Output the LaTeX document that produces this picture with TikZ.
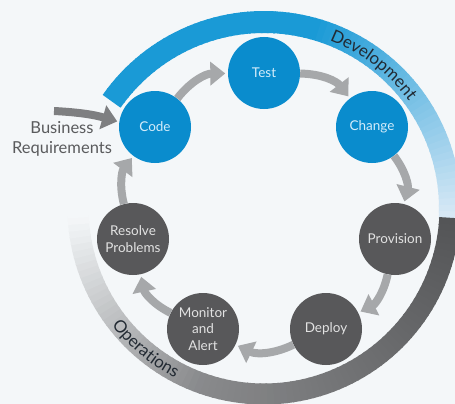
\documentclass[tikz,border=0pt]{standalone}
\usepackage{fontspec}
\setmainfont{Lato}
\usetikzlibrary{arrows.meta,decorations.text}
\definecolor{bg}{HTML}{F4F7F9}
\definecolor{devblue}{HTML}{1A9AD6}
\definecolor{devlight}{HTML}{DCEAF6}
\definecolor{nodeblue}{HTML}{0A8CCD}
\definecolor{nodegray}{HTML}{58585A}
\definecolor{arrowgray}{HTML}{A6A8AA}
\definecolor{bizgray}{HTML}{7E7F81}
\definecolor{opsdark}{HTML}{545557}
\definecolor{opsmid}{HTML}{8A8B8D}
\definecolor{txtdark}{HTML}{222A33}
\definecolor{labelgray}{HTML}{5A5B5D}
\definecolor{bluetxt}{HTML}{D4ECFA}
\definecolor{graytxt}{HTML}{E2E2E2}
\begin{document}
\begin{tikzpicture}[x=1pt,y=1pt,
  stage/.style={circle, minimum size=72pt, inner sep=0pt, align=center, font=\fontsize{13.5}{16.5}\selectfont},
  devstage/.style={stage, fill=nodeblue, text=bluetxt},
  opsstage/.style={stage, fill=nodegray, text=graytxt},
  flow/.style={draw=arrowgray, line width=8pt, -{Triangle[width=23pt,length=15pt]}, shorten >=2.5pt, bend left=25.7},
  bizflow/.style={draw=bizgray, line width=8pt, -{Triangle[width=24pt,length=15pt]}, shorten >=2pt},
]
\fill[bg] (0,0) rectangle (455,-404);
\useasboundingbox (0,0) rectangle (455,-404);
\coordinate (ringc) at (264,-208);
% development ring
\foreach \i in {0,...,73}{
  \pgfmathsetmacro{\a}{145-2*\i}
  \pgfmathsetmacro{\pct}{\a>75 ? 0 : (75-\a)/78*100}
  \colorlet{segc}{devlight!\pct!devblue}
  \draw[segc, line width=22pt] ([shift={(\a:186)}]ringc) arc[start angle=\a, end angle=\a-2.5, radius=186];
}
% operations ring
\foreach \i in {0,...,93}{
  \pgfmathsetmacro{\a}{-3-2*\i}
  \pgfmathsetmacro{\pa}{\a>-110 ? (-3-\a)/107*100 : 100}
  \pgfmathsetmacro{\pb}{\a>-110 ? 0 : min(100,(-110-\a)/66*100)}
  \colorlet{segc}{opsmid!\pa!opsdark}
  \colorlet{segd}{bg!\pb!segc}
  \draw[segd, line width=21pt] ([shift={(\a:186)}]ringc) arc[start angle=\a, end angle=\a-2.5, radius=186];
}
\path[decorate, decoration={text along path, text align=center, text color=txtdark,
  text={|\fontsize{17}{17}\selectfont|Development}}]
  ([shift={(80:180)}]ringc) arc[start angle=80, end angle=25, radius=180];
\path[decorate, decoration={text along path, text align=center, text color=txtdark,
  text={|\fontsize{17}{17}\selectfont|Operations}}]
  ([shift={(-160:192)}]ringc) arc[start angle=-160, end angle=-100, radius=192];
% stages
\node[devstage] (code) at (155,-127) {Code};
\node[devstage] (test) at (264,-73) {Test};
\node[devstage] (change) at (372,-127) {Change};
\node[opsstage] (prov) at (395,-239) {Provision};
\node[opsstage] (deploy) at (326,-329) {Deploy};
\node[opsstage] (monitor) at (203,-329) {Monitor\\and\\Alert};
\node[opsstage] (resolve) at (133,-239) {Resolve\\Problems};
% flow arrows
\draw[flow] (code) to (test);
\draw[flow] (test) to (change);
\draw[flow] (change) to (prov);
\draw[flow] (prov) to (deploy);
\draw[flow] (deploy) to (monitor);
\draw[flow] (monitor) to (resolve);
\draw[flow] (resolve) to (code);
% business requirements
\node[font=\fontsize{16.5}{20}\selectfont, text=labelgray, align=center] (biz) at (62,-139) {Business\\Requirements};
\coordinate (bizstart) at (54,-111);
\draw[bizflow] (bizstart) to[out=-3, in=164] (code.172);
\end{tikzpicture}
\end{document}
